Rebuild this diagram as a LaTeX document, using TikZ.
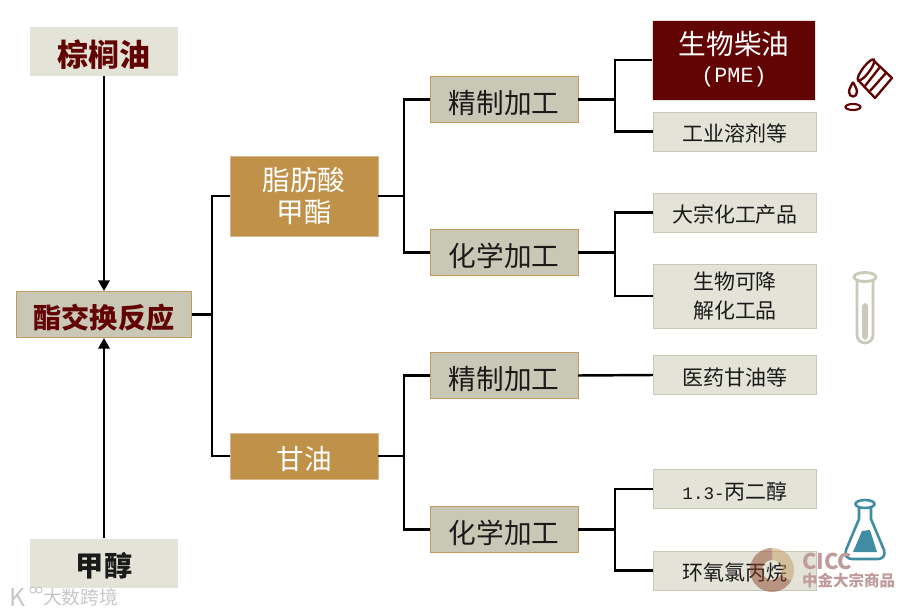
\documentclass[tikz,border=0pt]{standalone}
\usepackage{fontspec}
\setmainfont{Noto Sans CJK SC}
\newfontfamily\latinmono{Liberation Mono}
\usetikzlibrary{arrows.meta,positioning}
\definecolor{ink}{HTML}{1A1A1A}
\definecolor{wine}{HTML}{620404}
\definecolor{pale}{HTML}{E4E3D7}
\definecolor{sage}{HTML}{C9C8B6}
\definecolor{ochre}{HTML}{BF9149}
\definecolor{tan}{HTML}{C49A60}
\definecolor{tube}{HTML}{CBCABA}
\definecolor{teal}{HTML}{3F8CA3}

\begin{document}
\begin{tikzpicture}[x=.03cm,y=-.03cm,
  box/.style={rectangle,inner sep=0pt,align=center,minimum width=4.44cm,
    execute at begin node={\rule{0pt}{1.08em}}},
  source/.style={box,fill=pale,minimum height=1.47cm,font=\fontsize{26.4}{30}\selectfont},
  reaction/.style={box,draw=tan,line width=.8pt,fill=sage,text=wine,font=\fontsize{24}{30}\selectfont\bfseries,
    minimum width=5.25cm,minimum height=1.38cm},
  stream/.style={box,draw=tan!70,fill=ochre,text=white,font=\fontsize{23.6}{28}\selectfont},
  process/.style={box,draw=tan,fill=sage,text=ink,minimum height=1.38cm,font=\fontsize{23.6}{28}\selectfont},
  product/.style={box,draw=sage,line width=.6pt,fill=pale,text=ink,minimum width=4.9cm,
    font=\fontsize{17.9}{24}\selectfont},
  link/.style={draw=black,line width=2.1pt},
  arrow/.style={link,-{Triangle[length=9pt,width=9.5pt]}},
  wtext/.style={inner sep=0pt,anchor=west}
]
\useasboundingbox (0,0) rectangle (915,613);
% left column
\node[source,text=wine] (palm) at (104,51.5) {\textbf{棕榈油}};
\node[source,text=ink,font=\fontsize{24}{30}\selectfont] (methanol) at (104,563) {\textbf{甲醇}};
\node[reaction] (react) at (104,314.5) {酯交换反应};
% middle column
\node[stream,minimum height=2.4cm] (fame) at (304,196) {脂肪酸\\甲酯};
\node[stream,minimum height=1.38cm] (glycerol) at (304,456) {甘油};
\node[process] (refineA) at (504,99.5) {精制加工};
\node[process] (chemA) at (504,252.5) {化学加工};
\node[process] (refineB) at (504,375.5) {精制加工};
\node[process] (chemB) at (504,529.5) {化学加工};
% products
\node[box,draw=pale,fill=wine,text=white,minimum width=4.88cm,minimum height=2.4cm,
  font=\fontsize{23.6}{28}\selectfont] (pme) at (734,60)
  {生物柴油\\[-4pt]{\latinmono\fontsize{18.5}{28}\selectfont (PME)}\rule[-5pt]{0pt}{1pt}};
\node[product,minimum height=1.17cm] (solvent) at (735,131.5) {工业溶剂等};
\node[product,minimum height=1.17cm] (bulk) at (735,212.5) {大宗化工产品};
\node[product,minimum height=1.92cm] (degrade) at (735,296) {生物可降\\解化工品};
\node[product,minimum height=1.17cm] (pharma) at (735,375) {医药甘油等};
\node[product,minimum height=1.17cm] (pdo) at (735,489) {{\latinmono\fontsize{15}{24}\selectfont 1.3-}丙二醇};
\node[product,minimum height=1.17cm] (ech) at (735,570.5) {环氧氯丙烷};

\draw[arrow] (palm) -- (react);
\draw[arrow] (methanol) -- (react);
\draw[link] (react.east) -- ++(20,0) coordinate (hubA) |- (fame.west);
\draw[link] (hubA) |- (glycerol.west);
\draw[link] (fame.east) -- ++(26,0) coordinate (hubB) |- (refineA.west);
\draw[link] (hubB) |- (chemA.west);
\draw[link] (glycerol.east) -- ++(26,0) coordinate (hubC) |- (refineB.west);
\draw[link] (hubC) |- (chemB.west);
\draw[link] (refineA.east) -- ++(37,0) coordinate (hubD) |- (pme.west);
\draw[link] (hubD) |- (solvent.west);
\draw[link] (chemA.east) -- ++(37,0) coordinate (hubE) |- (bulk.west);
\draw[link] (hubE) |- (degrade.west);
\draw[link] (refineB.east) -- (pharma.west);
\draw[link] (chemB.east) -- ++(37,0) coordinate (hubF) |- (pdo.west);
\draw[link] (hubF) |- (ech.west);

% pail
\draw[wine,line width=2pt,line join=round] (873,60) -- (892,78) -- (875,98) -- (858,80);
\draw[wine,line width=2pt,rotate around={53:(866,70)}] (866,70) ellipse [x radius=13,y radius=3.5];
\draw[wine,line width=2pt] (880,67) -- (865,86) (886,73) -- (870,91);
\draw[wine,line width=2pt,line join=round] (853,82) .. controls (851,86) and (849,89) .. (849,92)
  .. controls (849,98) and (857,98) .. (857,92) .. controls (857,89) and (855,86) .. (853,82);
\draw[wine,line width=1.8pt] (853,107) ellipse [x radius=7.5,y radius=3];
% test tube
\draw[tube,line width=2.4pt,fill=white] (857,280) -- (857,335) arc [start angle=180,end angle=0,x radius=8,y radius=8] -- (873,280);
\fill[tube,rounded corners=3pt] (862,303) rectangle (868,340);
\draw[tube,line width=2.4pt,fill=white] (865,277) ellipse [x radius=11,y radius=4.5];
% flask
\draw[teal,line width=2.2pt,line join=round] (859,508) -- (859,519) -- (846,550) .. controls (844,556) and (848,559) .. (852,559)
  -- (878,559) .. controls (882,559) and (886,556) .. (884,550) -- (871,519) -- (871,508);
\fill[teal] (862,531) -- (870,530) -- (877,552) -- (853,552) -- cycle;
\draw[teal,line width=2.2pt,fill=white] (865,504) ellipse [x radius=9.5,y radius=4];
% watermarks
\fill[wine!55!tan,opacity=.5] ([shift={(772,570)}]30:22) arc [start angle=30,end angle=270,radius=22]
  -- ([shift={(772,570)}]270:10) arc [start angle=270,end angle=30,radius=10] -- cycle;
\fill[tan,opacity=.5] ([shift={(772,570)}]-90:22) arc [start angle=-90,end angle=30,radius=22]
  -- ([shift={(772,570)}]30:10) arc [start angle=30,end angle=-90,radius=10] -- cycle;
\node[wtext,text=wine!40!white,font=\fontsize{18.5}{22}\selectfont\bfseries] (cicc) at (802,561) {CICC};
\node[wtext,text=wine!40!white,font=\fontsize{13.2}{15}\selectfont\bfseries] (ciccname) at (802,581) {中金大宗商品};
\node[wtext,text=black!22,font=\fontsize{16}{18}\selectfont] (wmark) at (43,597) {大数跨境};
\node[wtext,text=black!22,font=\fontsize{21}{22}\selectfont] (wlogo) at (9,597) {K};
\draw[black!22,line width=.8pt] (33,590) circle [radius=3] (39,590) circle [radius=3];
\end{tikzpicture}
\end{document}
